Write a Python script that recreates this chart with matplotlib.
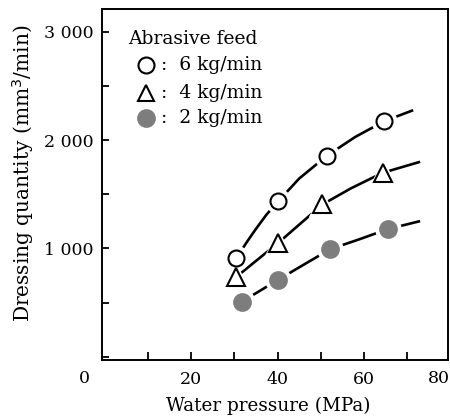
import matplotlib.pyplot as plt
from matplotlib.ticker import MultipleLocator

plt.rcParams['font.family'] = ['DejaVu Serif']

# measured points (Water pressure MPa, Dressing quantity mm3/min)
x_6kg = [30.4, 40.2, 51.5, 64.7]
y_6kg = [907, 1437, 1858, 2175]
x_4kg = [30.5, 40.2, 50.4, 64.3]
y_4kg = [738, 1052, 1406, 1698]
x_2kg = [31.7, 40.0, 52.1, 65.5]
y_2kg = [507, 707, 991, 1178]

# hand-drawn trend curves
cx_6kg = [30.4, 33, 35, 37.5, 40.2, 45, 51.5, 58, 64.7, 71.4]
cy_6kg = [907, 1065, 1180, 1315, 1437, 1645, 1858, 2030, 2175, 2277]
cx_4kg = [30.5, 35, 40.2, 45, 50.4, 57, 64.3, 73.0]
cy_4kg = [738, 884, 1052, 1219, 1406, 1555, 1698, 1800]
cx_2kg = [31.7, 36, 40.0, 46, 52.1, 59, 65.5, 73.0]
cy_2kg = [507, 610, 707, 848, 991, 1085, 1178, 1252]

GRAY = '#7d7d7d'
series = [
    (cx_6kg, cy_6kg, x_6kg, y_6kg, 'o', 'white', 11.5),
    (cx_4kg, cy_4kg, x_4kg, y_4kg, '^', 'white', 13),
    (cx_2kg, cy_2kg, x_2kg, y_2kg, 'o', GRAY, 12),
]

fig = plt.figure(figsize=(4.5, 4.17), dpi=100)
ax = fig.add_axes([0.226, 0.137, 0.77, 0.841])

for cx, cy, x, y, m, fc, ms in series:
    ax.plot(cx, cy, color='black', lw=1.9, zorder=2, solid_capstyle='butt')
    # white halo so the curve stops short of each marker
    ax.plot(x, y, ls='none', marker=m, ms=ms + 6, mfc='white', mec='white', zorder=3)
    ax.plot(x, y, ls='none', marker=m, ms=ms, mfc=fc, mec='black' if fc == 'white' else fc,
            mew=1.5, zorder=4)

ax.set_xlim(-0.7, 79.5)
ax.set_ylim(-30, 3210)

ax.set_xticks(range(10, 80, 10))
ax.set_xticklabels(['' if v not in (20, 40, 60) else str(v) for v in range(10, 80, 10)])
ax.set_yticks([1000, 2000, 3000])
ax.set_yticklabels(['1 000', '2 000', '3 000'])
ax.yaxis.set_minor_locator(MultipleLocator(500))
ax.tick_params(which='both', direction='in', labelsize=12.5, width=1.3)
ax.tick_params(axis='x', length=6, pad=8)
ax.tick_params(axis='y', which='major', length=5, pad=6)
ax.tick_params(axis='y', which='minor', length=5)
for s in ax.spines.values():
    s.set_linewidth(1.4)

ax.text(-4.6, -200, '0', fontsize=12.5, ha='center', va='center', clip_on=False)
ax.text(77.4, -200, '80', fontsize=12.5, ha='center', va='center', clip_on=False)

ax.set_xlabel('Water pressure (MPa)', fontsize=13.2)
ax.xaxis.set_label_coords(0.48, -0.105)
ax.set_ylabel('Dressing quantity (mm$^3$/min)', fontsize=14.5)
ax.yaxis.set_label_coords(-0.19, 0.532)

# legend drawn as text
ax.text(5.5, 2930, 'Abrasive feed', fontsize=13.5, va='center')
leg_y = [2690, 2440, 2200]
leg_m = [('o', 'white', 11.5), ('^', 'white', 12), ('o', GRAY, 12)]
leg_t = [':  6 kg/min', ':  4 kg/min', ':  2 kg/min']
for ly, (m, fc, ms), t in zip(leg_y, leg_m, leg_t):
    ax.plot([9.6], [ly], ls='none', marker=m, ms=ms, mfc=fc,
            mec='black' if fc == 'white' else fc, mew=1.5)
    ax.text(13.0, ly, t, fontsize=13.5, va='center')

fig.savefig('out.png', dpi=100)
